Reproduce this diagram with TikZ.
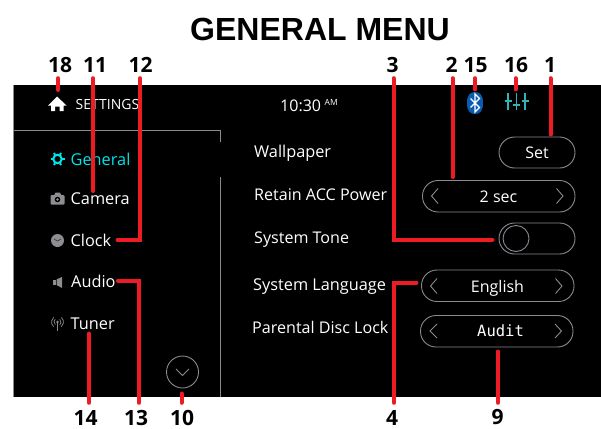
\documentclass[tikz,border=0pt]{standalone}
\usepackage{fontspec}
\setmainfont{Open Sans}
\newfontfamily\titlefont{Liberation Sans}
\newfontfamily\auditfont{DejaVu Sans Mono}
\definecolor{callred}{HTML}{ED1C24}
\definecolor{framegrey}{HTML}{8A8A92}
\definecolor{icongrey}{HTML}{8E8E92}
\definecolor{menucyan}{HTML}{00E5E8}
\definecolor{btblue}{HTML}{0A5CB0}
\definecolor{sliderteal}{HTML}{2FB5B8}
\newcommand{\fs}[1]{\fontsize{#1}{#1}\selectfont}
\tikzset{
  x=1pt,y=-1pt,
  toplabel/.style={font=\fs{21}\bfseries,text=black,inner sep=0pt,minimum height=26pt},
  botlabel/.style={font=\fs{21}\bfseries,text=black,inner sep=0pt,minimum height=18pt},
  callout/.style={draw=callred,line width=4pt,line cap=round,line join=miter},
  uitext/.style={font=\fs{16.1},text=white,inner sep=0pt,anchor=base west},
  menutext/.style={font=\fs{16.3},text=white,inner sep=0pt,anchor=base west},
  pill/.style={draw=framegrey,line width=0.9pt,rounded corners=15.5pt},
  chev/.style={draw=framegrey,line width=0.9pt},
  valtext/.style={font=\fs{16},text=white,inner sep=0pt,anchor=base}
}
\begin{document}
\begin{tikzpicture}
\useasboundingbox (0,0) rectangle (601,428);
\fill[white] (0,0) rectangle (601,428);
\fill[black] (13,85) rectangle (601,397);
\draw[framegrey,line width=0.6pt] (13,85) -- (13,397);
\draw[framegrey,line width=0.8pt] (13,130.5) -- (220.5,130.5) -- (220.5,142);
\draw[framegrey,line width=0.8pt] (220.5,177) -- (220.5,397);

\node[font=\fs{32}\titlefont\bfseries,text=black,inner sep=0pt] (title) at (320,29) {GENERAL MENU};

% header
\fill[white] (57,96.5) -- (66.5,105.5) -- (63.5,105.5) -- (63.5,111) -- (59.5,111) -- (59.5,106.5) -- (55,106.5) -- (55,111) -- (51,111) -- (51,105.5) -- (48,105.5) -- cycle;
\node[uitext,font=\fs{14}] (settings) at (75.5,109.5) {SETTINGS};
\node[uitext,font=\fs{16}] (clocktime) at (280,111) {10:30};
\node[uitext,font=\fs{8.5}] (ampm) at (324.5,105) {AM};
% bluetooth badge
\fill[btblue] (467,103) .. controls (467,95) and (470,92) .. (475,92) .. controls (480,92) and (483,95) .. (483,103) .. controls (483,111) and (480,114) .. (475,114) .. controls (470,114) and (467,111) .. (467,103) -- cycle;
\draw[white,line width=1.1pt] (470.5,98.5) -- (479.5,107.5) -- (475,112) -- (475,94) -- (479.5,98.5) -- (470.5,107.5);
% sliders
\foreach \xx/\yy in {508/101,516.5/105,525/101}{
  \draw[sliderteal,line width=1.2pt] (\xx,93) -- (\xx,110);
  \draw[sliderteal,line width=1.4pt] (\xx-3.5,\yy) -- (\xx+3.5,\yy);
}

% menu
\draw[menucyan,line width=2pt] (57.5,159) circle (4.2);
\foreach \a in {0,60,...,300}{\draw[menucyan,line width=2pt] (57.5,159) ++(\a:4.8) -- ++(\a:2.2);}
\node[menutext,text=menucyan] (general) at (70.5,165) {General};
\fill[icongrey,rounded corners=1pt] (50.5,195) rectangle (64.5,204.5);
\fill[icongrey] (54,195.5) -- (55.5,192.5) -- (60,192.5) -- (61.5,195.5) -- cycle;
\fill[black] (57.5,199.5) circle (2.8);
\fill[icongrey] (57.5,199.5) circle (1.4);
\node[menutext] (camera) at (70.5,204) {Camera};
\fill[icongrey] (57.5,240.5) circle (6.5);
\draw[black!75,line width=0.8pt] (54,239) -- (57.5,241) -- (61,239);
\node[menutext] (clockitem) at (70.5,246) {Clock};
\fill[icongrey] (53,279.5) rectangle (55.5,285);
\fill[icongrey] (56.5,279.5) -- (62,277) -- (62,288) -- (56.5,285) -- cycle;
\node[menutext] (audio) at (71,287) {Audio};
\fill[icongrey] (57.5,322) circle (1.3);
\draw[icongrey,line width=0.7pt] (57.5,322) -- (57.5,331);
\foreach \r in {3.5,6}{
  \draw[icongrey,line width=0.7pt] (57.5,322) ++(-50:\r) arc[start angle=-50,end angle=50,radius=\r,y=1pt];
  \draw[icongrey,line width=0.7pt] (57.5,322) ++(130:\r) arc[start angle=130,end angle=230,radius=\r,y=1pt];
}
\node[menutext] (tuner) at (70.5,329) {Tuner};
\node[draw=framegrey,line width=0.9pt,circle,minimum size=32pt,inner sep=0pt] (down) at (182.5,372) {};
\draw[chev] (176,369) -- (182.5,375.5) -- (189,369);

% rows
\node[uitext,font=\fs{16.3}] (wallpaper) at (254,157.5) {Wallpaper};
\node[uitext] (retain) at (254,200.5) {Retain ACC Power};
\node[uitext] (tone) at (254,243.5) {System Tone};
\node[uitext,font=\fs{16.3}] (language) at (253,290) {System Language};
\node[uitext] (parental) at (252,333.5) {Parental Disc Lock};

% controls
\draw[pill] (499,137) rectangle (575,168);
\node[valtext] (set) at (537,158) {Set};
\draw[pill] (422.5,180.5) rectangle (575,212);
\draw[chev] (438,188.5) -- (431.5,196) -- (438,203.5);
\draw[chev] (556.5,188.5) -- (563,196) -- (556.5,203.5);
\node[valtext] (sec) at (498.5,202.5) {2 sec};
\draw[pill] (499,223) rectangle (575,254);
\node[draw=framegrey,line width=0.9pt,circle,minimum size=26pt,inner sep=0pt] (knob) at (516,238.5) {};
\draw[pill] (421.5,270) rectangle (574,301.5);
\draw[chev] (437,278.5) -- (430.5,286) -- (437,293.5);
\draw[chev] (555.5,278.5) -- (562,286) -- (555.5,293.5);
\node[valtext] (english) at (497.5,292.5) {English};
\draw[pill] (420.5,315.5) rectangle (573,347);
\draw[chev] (437,324) -- (430,331) -- (437,338);
\draw[chev] (555,324) -- (561.5,331) -- (555,338);
\node[valtext,font=\fs{15.5}\auditfont] (auditval) at (500.5,336.5) {Audit};

% callout labels
\node[toplabel] (l18) at (60,65) {18};
\node[toplabel] (l11) at (95,65) {11};
\node[toplabel] (l12) at (140.5,65) {12};
\node[toplabel] (l3) at (392.5,65) {3};
\node[toplabel] (l2) at (451.5,65) {2};
\node[toplabel] (l15) at (475.5,65) {15};
\node[toplabel] (l16) at (516,65) {16};
\node[toplabel] (l1) at (550,65) {1};
\node[botlabel] (l14) at (85.5,417.5) {14};
\node[botlabel] (l13) at (136,417.5) {13};
\node[botlabel] (l10) at (182,417.5) {10};
\node[botlabel] (l4) at (392,417.5) {4};
\node[botlabel] (l9) at (497.5,417.5) {9};

% callout end points
\coordinate (e18) at (58,90);
\coordinate (e11) at (93,191);
\coordinate (k12) at (140,240);
\coordinate (e12) at (117.5,240);
\coordinate (k3) at (393.5,239.5);
\coordinate (e3) at (492.5,239.5);
\coordinate (e2) at (452.5,177);
\coordinate (e15) at (475,89.5);
\coordinate (e16) at (515.5,89.5);
\coordinate (e1) at (550.5,134.5);
\coordinate (e14) at (89,333.5);
\coordinate (k13) at (139,280.5);
\coordinate (e13) at (118,280.5);
\coordinate (e10) at (181.5,393.5);
\coordinate (k4) at (394,282.5);
\coordinate (e4) at (416.5,282.5);
\coordinate (e9) at (498,351.5);

\draw[callout] (l18.south -| e18) -- (e18);
\draw[callout] (l11.south -| e11) -- (e11);
\draw[callout] (l12.south -| k12) -- (k12) -- (e12);
\draw[callout] (l3.south -| k3) -- (k3) -- (e3);
\draw[callout] (l2.south -| e2) -- (e2);
\draw[callout] (l15.south -| e15) -- (e15);
\draw[callout] (l16.south -| e16) -- (e16);
\draw[callout] (l1.south -| e1) -- (e1);
\draw[callout,shorten <=5.5pt] (l14.north -| e14) -- (e14);
\draw[callout,shorten <=5.5pt] (l13.north -| k13) -- (k13) -- (e13);
\draw[callout,shorten <=5.5pt] (l10.north -| e10) -- (e10);
\draw[callout,shorten <=5.5pt] (l4.north -| k4) -- (k4) -- (e4);
\draw[callout,shorten <=5.5pt] (l9.north -| e9) -- (e9);
\end{tikzpicture}
\end{document}
